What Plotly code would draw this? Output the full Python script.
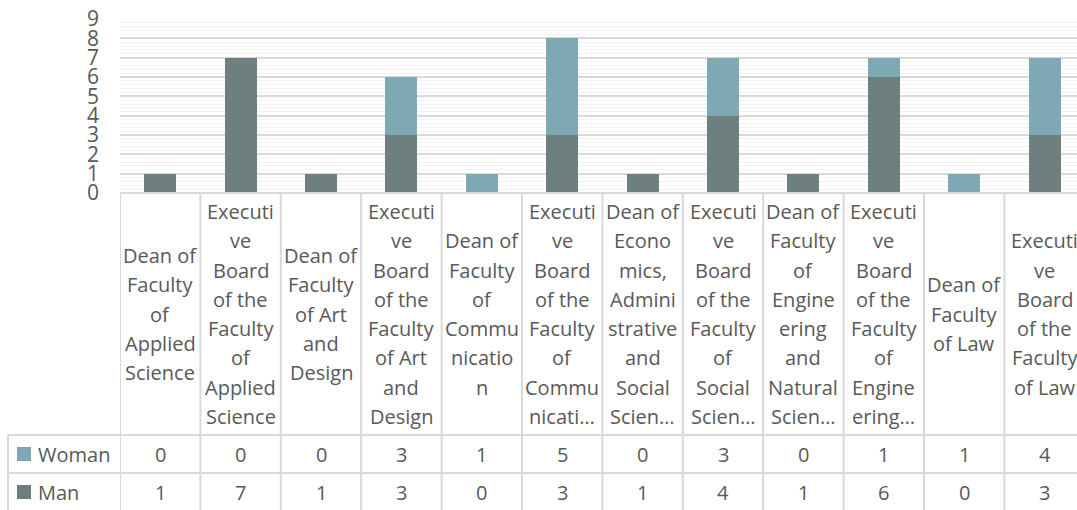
import plotly.graph_objects as go

categories = [
    "Dean of Faculty of Applied Science",
    "Executive Board of the Faculty of Applied Science",
    "Dean of Faculty of Art and Design",
    "Executive Board of the Faculty of Art and Design",
    "Dean of Faculty of Communication",
    "Executive Board of the Faculty of Communication",
    "Dean of Economics, Administrative and Social Sciences",
    "Executive Board of the Faculty of Social Sciences",
    "Dean of Faculty of Engineering and Natural Sciences",
    "Executive Board of the Faculty of Engineering and Natural Sciences",
    "Dean of Faculty of Law",
    "Executive Board of the Faculty of Law",
]
tick_labels = [
    ["Dean of", "Faculty", "of", "Applied", "Science"],
    ["Executi", "ve", "Board", "of the", "Faculty", "of", "Applied", "Science"],
    ["Dean of", "Faculty", "of Art", "and", "Design"],
    ["Executi", "ve", "Board", "of the", "Faculty", "of Art", "and", "Design"],
    ["Dean of", "Faculty", "of", "Commu", "nicatio", "n"],
    ["Executi", "ve", "Board", "of the", "Faculty", "of", "Commu", "nicati…"],
    ["Dean of", "Econo", "mics,", "Admini", "strative", "and", "Social", "Scien…"],
    ["Executi", "ve", "Board", "of the", "Faculty", "of", "Social", "Scien…"],
    ["Dean of", "Faculty", "of", "Engine", "ering", "and", "Natural", "Scien…"],
    ["Executi", "ve", "Board", "of the", "Faculty", "of", "Engine", "ering…"],
    ["Dean of", "Faculty", "of Law"],
    ["Executi", "ve", "Board", "of the", "Faculty", "of Law"],
]
woman = [0, 0, 0, 3, 1, 5, 0, 3, 0, 1, 1, 4]
man = [1, 7, 1, 3, 0, 3, 1, 4, 1, 6, 0, 3]
series_names = ["Woman", "Man"]

W, H = 1077, 510
C_MAN = "#6e7f80"
C_WOMAN = "#7fa8b5"
GRID = "#d9d9d9"
TXT = "#595959"
FONT = "Open Sans"

def X(px):
    return px / W

def Y(py):
    return 1 - py / H

PLOT_L, PLOT_TOP, PLOT_BOT = 120, 19, 193
HDR_BOT, ROW1_BOT = 435, 473

fig = go.Figure()
fig.add_trace(go.Bar(x=categories, y=man, name="Man", marker=dict(color=C_MAN, line=dict(width=0)), width=0.4))
fig.add_trace(go.Bar(x=categories, y=woman, name="Woman", marker=dict(color=C_WOMAN, line=dict(width=0)), width=0.4))

n = len(categories)
fig.update_layout(
    width=W, height=H,
    barmode="stack",
    showlegend=False,
    paper_bgcolor="white", plot_bgcolor="white",
    margin=dict(l=0, r=0, t=0, b=0, pad=0, autoexpand=False),
    font=dict(family=FONT, color=TXT, size=20),
    xaxis=dict(
        domain=[X(PLOT_L), 1],
        range=[-0.5, -0.5 + (W - PLOT_L) / 80.4],
        showticklabels=False, showgrid=False, zeroline=False,
        showline=False, fixedrange=True, automargin=False,
    ),
    yaxis=dict(
        domain=[Y(PLOT_BOT), Y(PLOT_TOP)],
        range=[0, 9], dtick=1, tick0=0,
        showgrid=True, gridcolor=GRID, gridwidth=1.5,
        minor=dict(dtick=0.2, showgrid=True, gridcolor="#f2f2f2", gridwidth=1),
        zeroline=False, showline=False, automargin=False,
        tickfont=dict(family=FONT, size=21, color=TXT),
        ticklabelstandoff=20,
    ),
)

shapes = []
line = dict(color=GRID, width=2)
shapes.append(dict(type="line", xref="paper", yref="paper", x0=X(PLOT_L), x1=1, y0=Y(PLOT_BOT), y1=Y(PLOT_BOT), line=line))
for k in range(n + 1):
    shapes.append(dict(type="line", xref="x", yref="paper", x0=k - 0.5, x1=k - 0.5, y0=Y(PLOT_BOT), y1=0, line=line))
for py in (HDR_BOT, ROW1_BOT):
    shapes.append(dict(type="line", xref="paper", yref="paper", x0=X(8), x1=1, y0=Y(py), y1=Y(py), line=line))
shapes.append(dict(type="line", xref="paper", yref="paper", x0=X(8), x1=X(8), y0=Y(HDR_BOT), y1=0, line=line))

annotations = []
hdr_center = (PLOT_BOT + HDR_BOT) / 2
LS = 29.3
for cat, lines in zip(categories, tick_labels):
    m = len(lines)
    for i, t in enumerate(lines):
        py = hdr_center + (i - (m - 1) / 2) * LS
        annotations.append(dict(x=cat, xref="x", y=Y(py), yref="paper", text=t, showarrow=False,
                                xanchor="center", yanchor="middle", font=dict(size=20, color=TXT, family=FONT)))

row_centers = {"Woman": (HDR_BOT + ROW1_BOT) / 2, "Man": ROW1_BOT + 19}
row_vals = {"Woman": woman, "Man": man}
row_cols = {"Woman": C_WOMAN, "Man": C_MAN}
for name in series_names:
    cy = row_centers[name]
    for cat, v in zip(categories, row_vals[name]):
        annotations.append(dict(x=cat, xref="x", y=Y(cy), yref="paper", text=str(v), showarrow=False,
                                xanchor="center", yanchor="middle", font=dict(size=20, color=TXT, family=FONT)))
    annotations.append(dict(x=X(36), xref="paper", y=Y(cy), yref="paper", text=name, showarrow=False,
                            xanchor="left", yanchor="middle", font=dict(size=20, color=TXT, family=FONT)))
    shapes.append(dict(type="rect", xref="paper", yref="paper", x0=X(17), x1=X(31), y0=Y(cy - 7), y1=Y(cy + 7),
                       fillcolor=row_cols[name], line=dict(width=0)))

fig.update_layout(shapes=shapes, annotations=annotations)
fig.write_html("out.html", config={"displayModeBar": False},
               post_script="document.body.style.margin='0px';")
